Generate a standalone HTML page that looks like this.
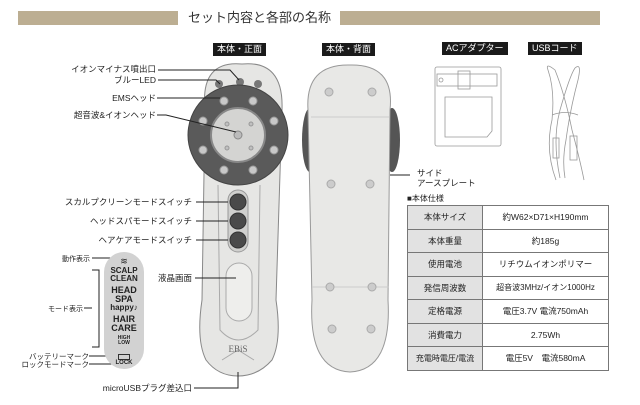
<!DOCTYPE html>
<html><head><meta charset="utf-8"><style>
body{margin:0;width:640px;height:405px;background:#fff;overflow:hidden;position:relative;font-family:"Liberation Sans","Noto Sans CJK JP",sans-serif;color:#222}
.a{position:absolute;white-space:nowrap}
.t{position:absolute;background:#1a1a1a;color:#fff;font-size:9px;line-height:13px;height:13px;padding:0 4px}
.l{font-size:8.5px;line-height:10px}
table{position:absolute;left:407px;top:205px;width:202px;border-collapse:collapse;font-size:8.5px}
td{border:1px solid #777;height:22.5px;padding:0;text-align:center}
td.h{background:#e2e2e2;width:74px}
</style></head><body>
<div class="a" style="left:18px;top:11px;width:160px;height:14px;background:#bcae92"></div>
<div class="a" style="left:340px;top:11px;width:260px;height:14px;background:#bcae92"></div>
<div class="a" style="left:188px;top:9px;font-size:13px;line-height:18px;color:#333">セット内容と各部の名称</div>
<div class="t" style="left:213px;top:43px">本体・正面</div>
<div class="t" style="left:322px;top:43px">本体・背面</div>
<div class="t" style="left:442px;top:42px">ACアダプター</div>
<div class="t" style="left:528px;top:42px">USBコード</div>

<svg class="a" style="left:0;top:0" width="640" height="405">
<path d="M205 110 Q200 60 242 64 Q284 60 282 110 L276 300 Q282 340 272 360 Q258 376 238 376 Q218 376 206 360 Q196 340 202 300 Z" fill="#e6e6e4" stroke="#888"/>
<path d="M218 185 L220 330 Q238 350 258 330 L260 185" fill="none" stroke="#aaa"/>
<path d="M222 360 L238 350 L254 360" fill="none" stroke="#aaa"/>
<circle cx="219" cy="84" r="4" fill="#777"/><circle cx="240" cy="82" r="4" fill="#777"/><circle cx="258" cy="84" r="4" fill="#777"/>
<circle cx="238" cy="135" r="50" fill="#5a5a5a" stroke="#444"/>
<circle cx="238" cy="135" r="27" fill="#d4d4d2" stroke="#888" stroke-width="2"/>
<circle cx="238" cy="135" r="4" fill="#bbb" stroke="#888"/>
<g fill="#c8c8c8" stroke="#999"><circle cx="224" cy="101" r="4"/><circle cx="253" cy="101" r="4"/><circle cx="203" cy="121" r="4"/><circle cx="274" cy="121" r="4"/><circle cx="203" cy="150" r="4"/><circle cx="274" cy="150" r="4"/><circle cx="224" cy="170" r="4"/><circle cx="253" cy="170" r="4"/></g>
<g fill="#c0c0c0" stroke="#999"><circle cx="227" cy="124" r="2"/><circle cx="251" cy="124" r="2"/><circle cx="227" cy="148" r="2"/><circle cx="251" cy="148" r="2"/></g>
<rect x="228" y="190" width="20" height="62" rx="10" fill="#d0d0ce" stroke="#999"/>
<g fill="#4a4a4a" stroke="#333"><circle cx="238" cy="202" r="8"/><circle cx="238" cy="221" r="8"/><circle cx="238" cy="240" r="8"/></g>
<rect x="226" y="263" width="26" height="58" rx="13" fill="#eeeeec" stroke="#aaa"/>
<text x="238" y="352" font-size="9" text-anchor="middle" fill="#666" font-family="Liberation Serif">EBiS</text>
<ellipse cx="310" cy="140" rx="8" ry="32" fill="#555"/>
<ellipse cx="392" cy="140" rx="8" ry="32" fill="#555"/>
<path d="M308 110 Q305 64 350 65 Q395 64 390 110 L388 300 Q392 370 350 372 Q308 370 312 300 Z" fill="#e8e8e6" stroke="#999"/>
<line x1="311" y1="117" x2="389" y2="117" stroke="#ccc"/>
<line x1="312" y1="287" x2="389" y2="287" stroke="#ccc"/>
<g fill="#ccc" stroke="#aaa"><circle cx="329" cy="92" r="4"/><circle cx="372" cy="92" r="4"/><circle cx="331" cy="184" r="4"/><circle cx="370" cy="184" r="4"/><circle cx="330" cy="287" r="4"/><circle cx="372" cy="287" r="4"/><circle cx="332" cy="329" r="4"/><circle cx="371" cy="329" r="4"/></g>
<g fill="none" stroke="#999" stroke-width="0.8">
<rect x="435" y="67" width="66" height="79" rx="2"/>
<path d="M445 97 H492 V131 L487 137 H445 Z"/>
<rect x="437" y="74" width="60" height="12"/><rect x="458" y="71" width="12" height="18"/><circle cx="441" cy="80" r="2"/>
<path d="M556 180 Q545 150 552 120 Q555 90 548 70 Q545 62 555 70 Q565 95 572 130 Q580 160 584 180"/>
<path d="M560 178 Q552 140 560 110 Q570 75 575 68 Q582 62 578 80 Q570 110 566 140 Q562 160 565 178"/>
<path d="M552 115 Q565 110 578 115"/>
<rect x="553" y="138" width="6" height="20"/><rect x="570" y="136" width="7" height="24"/>
</g>
<g stroke="#222" stroke-width="1" fill="none">
<path d="M158 70 H230 L239 80"/><path d="M158 80 H216 L220 84"/><path d="M157 98 H220"/><path d="M157 115 H166 L236 132"/>
<path d="M196 202 H228"/><path d="M196 221 H228"/><path d="M196 240 H228"/><path d="M195 278 H236"/>
<path d="M194 388 H238 V372"/><path d="M390 175 H410"/>
<path d="M92 258 H120"/><path d="M92 270 H99 V347 H92"/><path d="M84 308 H92"/><path d="M89 356 H116"/><path d="M89 364 H116"/>
</g>
</svg>
<div class="a" style="left:104px;top:252px;width:40px;height:117px;border-radius:20px;background:#d2d2d2"></div>
<div class="a" style="left:104px;top:256px;width:40px;text-align:center;font-size:9px">≋</div>
<div class="a" style="left:104px;top:267px;width:40px;text-align:center;font-weight:bold;font-size:8px;line-height:8px">SCALP<br>CLEAN<div style="height:3px"></div><span style="font-size:9px;line-height:9px">HEAD<br>SPA</span><br>happy♪<div style="height:3px"></div><span style="font-size:9px;line-height:9px">HAIR<br>CARE</span><div style="font-size:5px;line-height:5px;margin-top:3px">HIGH<br>LOW</div></div>
<div class="a" style="left:118px;top:354px;width:10px;height:4px;border:1px solid #333"></div>
<div class="a" style="left:104px;top:360px;width:40px;text-align:center;font-size:6px;font-weight:bold">LOCK</div>

<div class="a l" style="right:484px;top:64px">イオンマイナス噴出口</div>
<div class="a l" style="right:484px;top:75px">ブルーLED</div>
<div class="a l" style="right:484px;top:93px">EMSヘッド</div>
<div class="a l" style="right:484px;top:110px">超音波&amp;イオンヘッド</div>
<div class="a l" style="right:448px;top:197px">スカルプクリーンモードスイッチ</div>
<div class="a l" style="right:448px;top:216px">ヘッドスパモードスイッチ</div>
<div class="a l" style="right:448px;top:235px">ヘアケアモードスイッチ</div>
<div class="a l" style="right:448px;top:273px">液晶画面</div>
<div class="a l" style="right:448px;top:383px">microUSBプラグ差込口</div>
<div class="a" style="right:550px;top:254px;font-size:7px">動作表示</div>
<div class="a" style="right:557px;top:304px;font-size:7px">モード表示</div>
<div class="a" style="right:551px;top:352px;font-size:7.5px;line-height:9px">バッテリーマーク</div>
<div class="a" style="right:551px;top:360px;font-size:7.5px;line-height:9px">ロックモードマーク</div>
<div class="a l" style="left:417px;top:168px">サイド<br>アースプレート</div>
<div class="a" style="left:407px;top:193px;font-size:8px">■本体仕様</div>
<table>
<tr><td class="h">本体サイズ</td><td>約W62×D71×H190mm</td></tr>
<tr><td class="h">本体重量</td><td>約185g</td></tr>
<tr><td class="h">使用電池</td><td>リチウムイオンポリマー</td></tr>
<tr><td class="h">発信周波数</td><td style="font-size:8px">超音波3MHz/イオン1000Hz</td></tr>
<tr><td class="h">定格電源</td><td>電圧3.7V 電流750mAh</td></tr>
<tr><td class="h">消費電力</td><td>2.75Wh</td></tr>
<tr><td class="h" style="font-size:8px">充電時電圧/電流</td><td>電圧5V　電流580mA</td></tr>
</table>
</body></html>
